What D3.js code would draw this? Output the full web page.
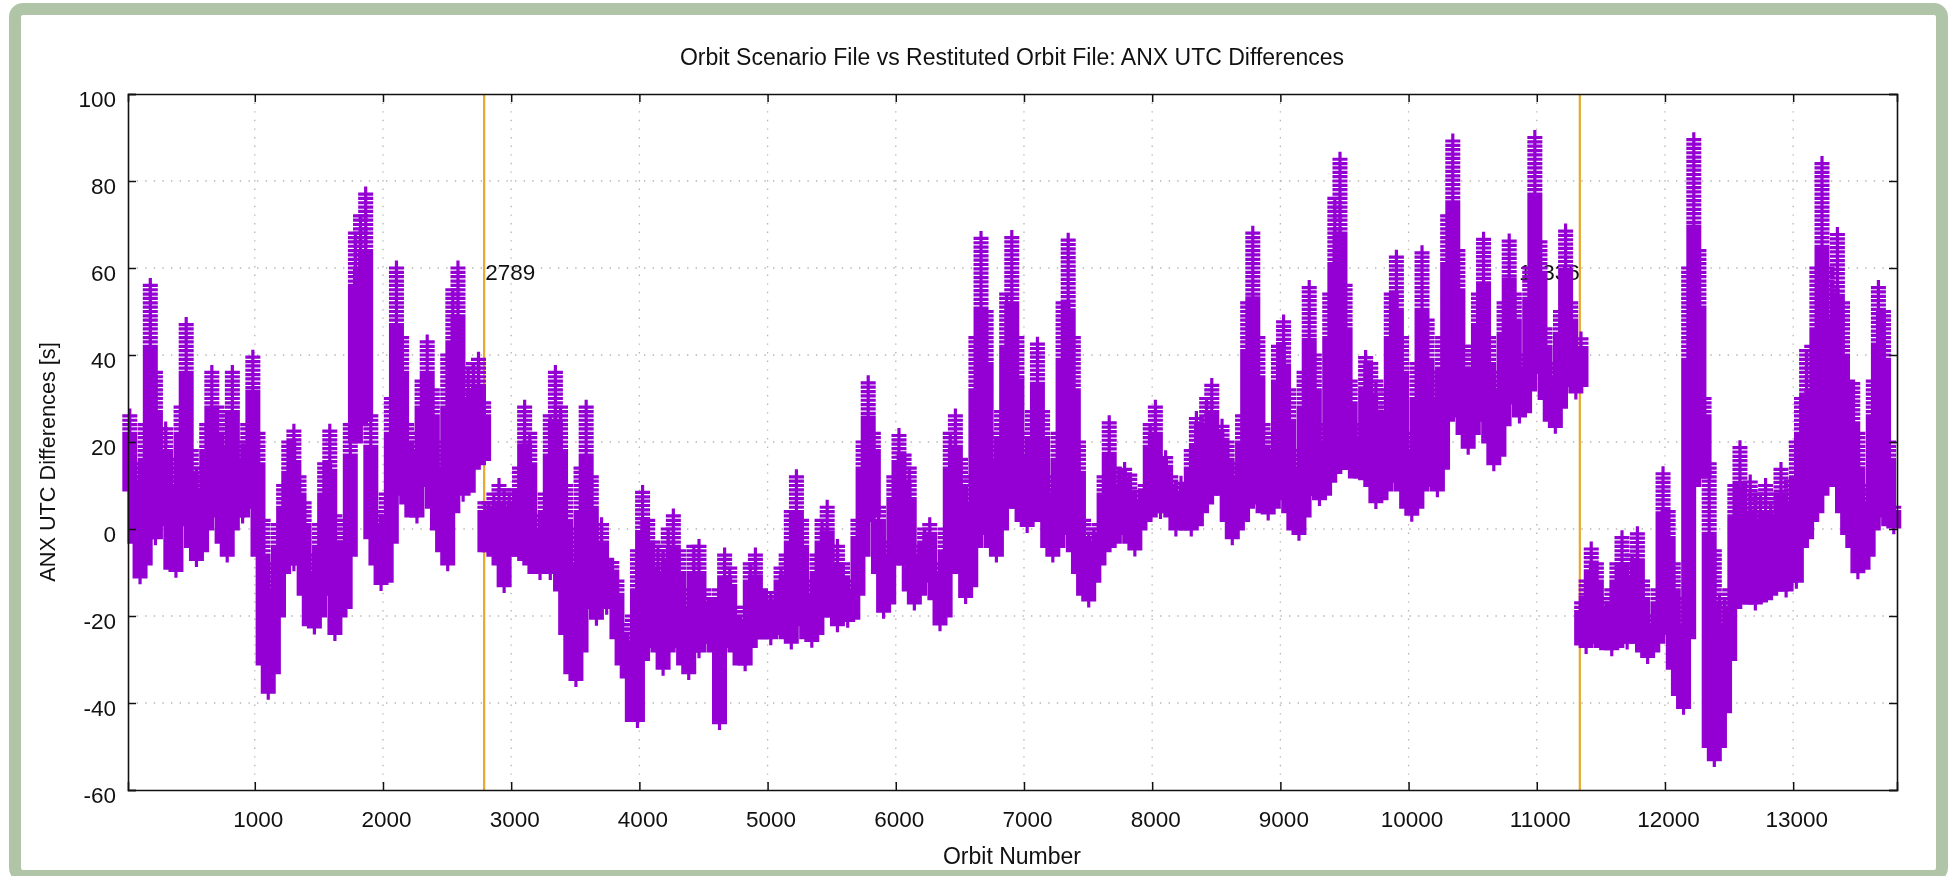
<!DOCTYPE html>
<html><head><meta charset="utf-8">
<script src="https://cdn.jsdelivr.net/npm/d3@7"></script>
<style>html,body{margin:0;padding:0;background:#fff;overflow:hidden}svg{display:block;filter:blur(.6px)}text{font-family:"Liberation Sans",Arial,sans-serif;fill:#111}</style>
</head><body><svg id="c" width="1949" height="876"></svg>
<script>
const titleText = "Orbit Scenario File vs Restituted Orbit File: ANX UTC Differences";
const xLabel = "Orbit Number";
const yLabel = "ANX UTC Differences [s]";
const xTicks = [1000,2000,3000,4000,5000,6000,7000,8000,9000,10000,11000,12000,13000];
const yTicks = [-60,-40,-20,0,20,40,60,80,100];
const markers = [2789, 11336];
// orbit bins, one every 40 orbits, plus the first bin after each of the two jumps
const orbits = d3.range(25,13800,40).concat([2795,11350]);
// highest difference seen in each bin [s]
const upper = [
26,15,14,24,56,36,23,23,16,14,28,47,18,14,12,24,36,28,18,27,36,20,14,24,39.5,
22,2,-13,-8,1,10,20,22.5,12,6,-6,-9,1,15,22.5,3,-3,2,24,68,72,77,26,4,-3,
8,30,60,44,24,14,22,34,43,32,16,20,40,55,60,36,37,38,39,29,6,8,10,9,8,
9,14,28,22,3,-2,8,26,36,28,10,-4,0,14,28,12,1,1,-7,-7.7,-12,-22,-26,-20,-5,
8.4,2,-3,-4,-5,0,3,-5,-21,-14,-4,-4,-14,-16,-16.5,-14,-6,-9,-18,-24,-18,-8,-6,-14,-14.6,
-14.6,-14.6,-9,-6,4,12,2,-12,-18,-6,2,5,-4,-4,-8,-14,-12,2,20,33.6,22,5,-4,-3,12,
21.5,17,14,-9,-4,0,1,-8,-15,0,22,26,16,-2,12,44,66.8,50,22,14,27,54,67,44,22,
15,27,42.5,27,12,10,22,52,66.4,44,20,2,-1,0,1,12,24.4,14,13,13.7,12.4,6,8.6,10,24,
28,16,16.4,12,8,10.5,10,18,25.4,24,30,33,22,23.6,20,14,15,26,52,68,44,24,17,22,42,
47.6,32,18,16,36,55.5,40,24,24,54,76,85,56,34,24,24,39.4,38,34,20,32,54,62.5,44,22,
20,38,63.5,48,36,28.8,44,72,89.2,64,42,35,42,54,66.6,44,33,36,52,66.2,54,40,39,60,90,
66,46,38,38,50,68.5,52,36,43.7,-12,-4.6,-8,-16,-18.4,-14,-8,-2,-8,-6,-1.1,-12,-20,-20,-14,12.7,
4,-8,-18,-16,60,89.5,64,30,15,-5,-15,-16,-14,10,18.7,2,10.8,8,8,10,6,8,13.7,8,11,
20,30,41,42,60,84,60,55,67.7,52,34,33.4,22,10,10,34,55.5,50,20,5,
6,-17];
// lowest difference seen in each bin [s]
const lower = [
9,-3,-11,-8,-2,-2,2,1,-9,-9.5,1,3,-4,-7,-5,0,3,4,-3,-6,0,3,3,5,8,
-6,-31,-37.5,-33,-20,-10,-8,-8,-7,-15,-22,-22.5,-20,-13,-15,-24,-20,-18,-6,20,24,25,-2,-8,-12.5,
-12,-3,8,12,6,3,3,10,14,5,0,-5,-8,4,15,8,8.7,14,15,16,-5,-6,-8,-13,-6,
-5,-6,-7,-8,-10,-10,-9,-10,-9,-14,-24,-33,-34.6,-28,-16,-18,-20.5,-18,-18,-17,-25,-31,-34,-44,-44,
-30,-21,-27,-28,-32,-28,-25,-27,-31,-33,-28,-28,-26,-26,-28,-44.5,-27,-26,-28,-31,-31,-27,-25,-25,-25,
-25,-24,-24,-25,-26,-20,-22,-25,-25.6,-24,-20,-18,-20,-22,-21,-21,-20.5,-15,-6,2,3,-10,-18.9,-17,-8,
-5,-8,-14,-17,-15,-12,-10,-16,-21.8,-20,-10,-5,-10,-15.5,-13,-4,2,-1,-4,-6,0,5,7,5,2,
0.8,2,4,2,-4,-6,-4,-1,0,-5,-10,-15,-16.3,-12,-8,-5,-4,-3,-1,0,-3,-4.6,0,2,3,
4,4,6,3,0,2,0,0,1,4,6,8,10.5,8,2,-2,0,2,5,8.5,6,4,3.7,5,7,
8,4,0,-1,3,8,8,7,8,11,13,14,14,14,12,12,11.6,10,6.3,7,9,11,11.6,9,5,
3.4,5,9,10,11,9,14,25,31,26,22,18.8,22,25.7,25,20,15,17,24,31,29,26,27,32,38,
36,30,25,23.6,28,33,33,31.5,33,-27,-26,-26,-27,-27.5,-27.5,-27,-26,-26,-25.7,-26,-28,-29.3,-28,-26,-24,
-22,-32,-38,-41,-25,10,12,12,-50,-53,-50,-42,-30,-18,-15,-17,-17,-17,-16.5,-16,-15,-14,-14,-14,-12,
-12,-4,-2,2,4,8,10,12.4,10,4,-1,-4,-9.8,-9,-6,0,3,6,1,0.5,
-5,-26.4];

const W=1949,H=876;
const fontSize=22.5;
const svg=d3.select("#c");
const x=d3.scaleLinear().domain([11,13810]).range([128,1897]);
const y=d3.scaleLinear().domain([-60,100]).range([790,94]);
const X0=x.range()[0],X1=x.range()[1],Y0=y.range()[0],Y1=y.range()[1];

// frame
svg.append("rect").attr("x",15).attr("y",9).attr("width",1927).attr("height",867).attr("rx",8)
  .attr("fill","#fff").attr("stroke","#b0c4a8").attr("stroke-width",12);

// grid
const grid=svg.append("g").attr("stroke","#b5b5b5").attr("stroke-width",1.3).attr("stroke-dasharray","1.4 7.2").attr("fill","none");
grid.selectAll("line.v").data(xTicks).join("line").attr("x1",d=>x(d)).attr("x2",d=>x(d)).attr("y1",Y1).attr("y2",Y0);
grid.selectAll("line.h").data(yTicks.slice(1,-1)).join("line").attr("y1",d=>y(d)).attr("y2",d=>y(d)).attr("x1",X0).attr("x2",X1);

// jump markers
svg.append("g").selectAll("line").data(markers).join("line")
  .attr("x1",d=>x(d)).attr("x2",d=>x(d)).attr("y1",Y1).attr("y2",Y0)
  .attr("stroke","#e8a92c").attr("stroke-width",2.2);
svg.append("g").selectAll("text").data(markers).join("text")
  .attr("x",(d,i)=>i?x(d):x(d)+1).attr("y",280)
  .attr("text-anchor",(d,i)=>i?"end":"start")
  .attr("font-size",fontSize).text(d=>d);

// points
const half=7.5;
const rows=orbits.map((o,i)=>({o,hi:upper[i],lo:lower[i],i})).sort((a,b)=>a.o-b.o);
const marks=svg.append("g").attr("stroke","#9400d3").attr("fill","none");
marks.selectAll("path").data(rows).join("path")
  .attr("stroke-width",3.2)
  .attr("d",(r,k)=>{
    const cx=x(r.o);
    let d="";
    const split=r.hi-0.25*(r.hi-r.lo);
    d3.range(r.hi,split,-1).concat(d3.range(split,r.lo-0.01,-0.7)).concat([r.lo])
      .forEach(v=>{d+=`M${cx-half},${y(v)}H${cx+half}`;});
    const pv=rows[k-1],nx=rows[k+1];
    const top=(!pv||pv.hi<=r.hi)&&(!nx||nx.hi<r.hi);
    const bot=(!pv||pv.lo>=r.lo)&&(!nx||nx.lo>r.lo);
    const yt=y(r.hi)-(top?half:0), yb=y(r.lo)+(bot?half:0);
    return d+`M${cx},${yt}V${yb}`;
  });

// axes with inward ticks on all four sides
const tick=8;
const fmt=d=>String(d);
const axes=[
  d3.axisBottom(x).tickValues(xTicks).tickSize(-tick).tickPadding(21).tickFormat(fmt),
  d3.axisTop(x).tickValues(xTicks).tickSize(-tick).tickFormat(""),
  d3.axisLeft(y).tickValues(yTicks).tickSize(-tick).tickPadding(12).tickFormat(fmt),
  d3.axisRight(y).tickValues(yTicks).tickSize(-tick).tickFormat("")
];
const trans=[`translate(0,${Y0})`,`translate(0,${Y1})`,`translate(${X0},0)`,`translate(${X1},0)`];
axes.forEach((a,i)=>{
  const g=svg.append("g").attr("transform",trans[i]).call(a);
  g.selectAll("path.domain").attr("stroke","#111").attr("stroke-width",1.6);
  g.selectAll("line").attr("stroke","#111").attr("stroke-width",1.5);
  g.selectAll("text").attr("font-size",fontSize).attr("fill","#111").style("font-family",'"Liberation Sans",Arial,sans-serif');
  if(i===0) g.selectAll("text").attr("dx",3);
  if(i===2) g.selectAll("text").attr("dy","0.54em");
});

svg.append("text").attr("x",1012).attr("y",65).attr("text-anchor","middle").attr("font-size",23).text(titleText);
svg.append("text").attr("x",1012).attr("y",864).attr("text-anchor","middle").attr("font-size",23).text(xLabel);
svg.append("text").attr("transform","translate(55,462) rotate(-90)").attr("text-anchor","middle").attr("font-size",21.7).text(yLabel);
</script></body></html>
